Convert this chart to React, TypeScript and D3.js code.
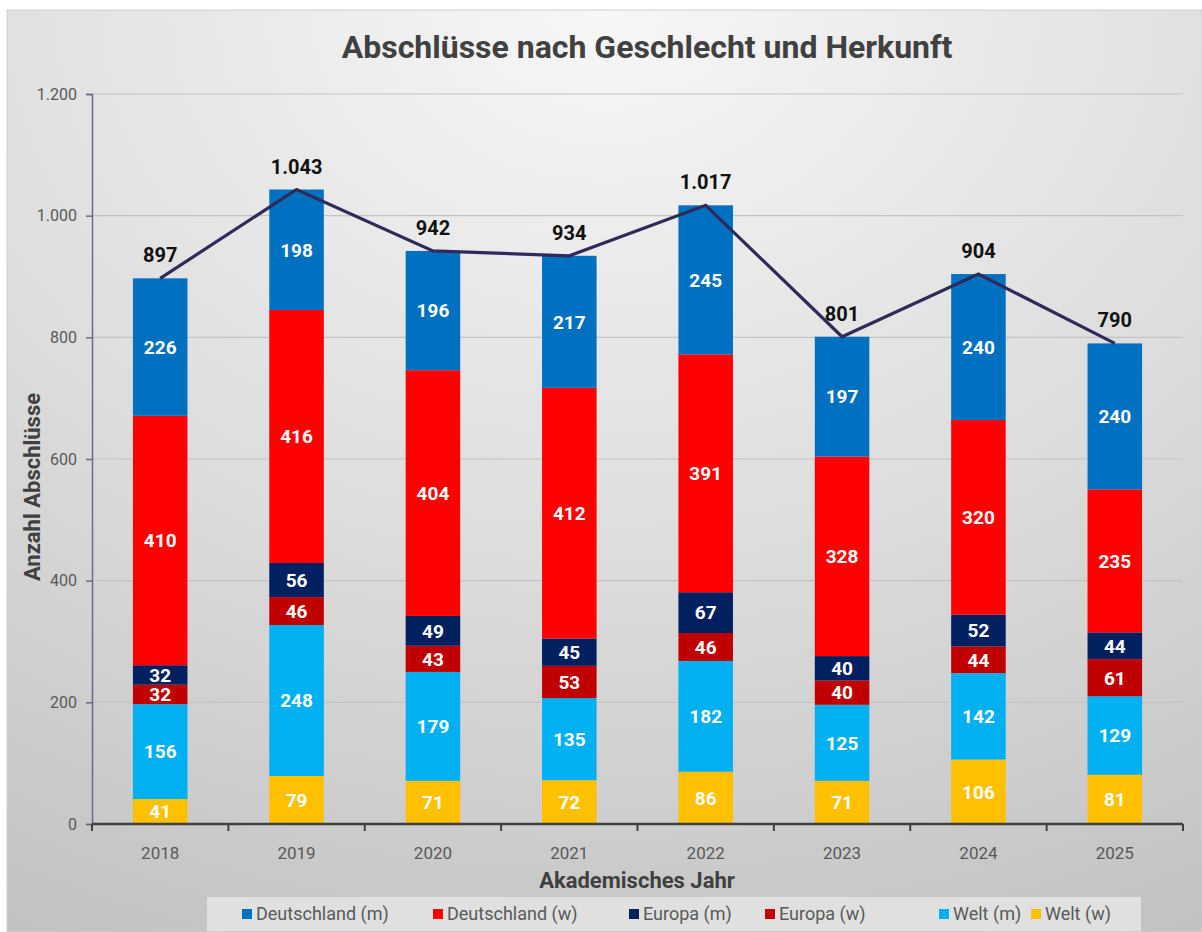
// @ts-nocheck
import React, { useRef, useEffect } from 'react';
import * as d3 from 'd3';

const years = ['2018', '2019', '2020', '2021', '2022', '2023', '2024', '2025'];
const seriesNames = ['Welt (w)', 'Welt (m)', 'Europa (w)', 'Europa (m)', 'Deutschland (w)', 'Deutschland (m)'];
const seriesColors = ['#FFC000', '#00B0F0', '#C00000', '#002060', '#FF0000', '#0070C0'];
const weltW = [41, 79, 71, 72, 86, 71, 106, 81];
const weltM = [156, 248, 179, 135, 182, 125, 142, 129];
const europaW = [32, 46, 43, 53, 46, 40, 44, 61];
const europaM = [32, 56, 49, 45, 67, 40, 52, 44];
const deutschW = [410, 416, 404, 412, 391, 328, 320, 235];
const deutschM = [226, 198, 196, 217, 245, 197, 240, 240];
const yTicks = [0, 200, 400, 600, 800, 1000, 1200];
const legendOrder = ['Deutschland (m)', 'Deutschland (w)', 'Europa (m)', 'Europa (w)', 'Welt (m)', 'Welt (w)'];

const fmt = (v) => d3.format(',')(v).replace(/,/g, '.');

export default function App() {
    const svgRef = useRef(null);

    useEffect(() => {
        const W = 1202, H = 932;
        const svg = d3.select(svgRef.current).attr('width', W).attr('height', H);
        svg.selectAll('*').remove();
        const font = 'Roboto, "DejaVu Sans", sans-serif';

        // background
        const defs = svg.append('defs');
        const grad = defs.append('radialGradient').attr('id', 'bg')
            .attr('cx', '50%').attr('cy', '0%').attr('r', '110%')
            .attr('gradientUnits', 'objectBoundingBox');
        grad.append('stop').attr('offset', '0%').attr('stop-color', '#f7f7f7');
        grad.append('stop').attr('offset', '55%').attr('stop-color', '#dcdcdc');
        grad.append('stop').attr('offset', '100%').attr('stop-color', '#c2c2c2');
        svg.append('rect').attr('width', W).attr('height', H).attr('fill', '#fff');
        svg.append('rect').attr('x', 7).attr('y', 10).attr('width', W - 7).attr('height', H - 10)
            .attr('fill', 'url(#bg)').attr('stroke', '#d0d0d0');

        const rows = years.map((y, i) => ({
            year: y,
            'Welt (w)': weltW[i], 'Welt (m)': weltM[i], 'Europa (w)': europaW[i],
            'Europa (m)': europaM[i], 'Deutschland (w)': deutschW[i], 'Deutschland (m)': deutschM[i],
        }));
        const totals = rows.map(r => d3.sum(seriesNames, k => r[k]));

        const x = d3.scaleBand().domain(years).range([92, 1183]).paddingInner(0.6).paddingOuter(0.3);
        const y = d3.scaleLinear().domain([0, 1200]).range([824, 94]);
        const color = d3.scaleOrdinal().domain(seriesNames).range(seriesColors);

        // grid
        svg.append('g').selectAll('line').data(yTicks.filter(t => t > 0)).enter().append('line')
            .attr('x1', 92).attr('x2', 1183)
            .attr('y1', d => y(d)).attr('y2', d => y(d))
            .attr('stroke', '#c4c4c4').attr('stroke-width', 1.2);

        // bars
        const stack = d3.stack().keys(seriesNames)(rows);
        const layers = svg.append('g').selectAll('g').data(stack).enter().append('g')
            .attr('fill', d => color(d.key));
        layers.selectAll('rect').data(d => d).enter().append('rect')
            .attr('x', d => x(d.data.year))
            .attr('width', x.bandwidth())
            .attr('y', d => y(d[1]))
            .attr('height', d => y(d[0]) - y(d[1]));
        layers.selectAll('text').data(d => d).enter().append('text')
            .attr('x', d => x(d.data.year) + x.bandwidth() / 2)
            .attr('y', d => (y(d[0]) + y(d[1])) / 2)
            .attr('dy', '0.36em')
            .attr('text-anchor', 'middle')
            .attr('fill', '#fff')
            .attr('font-family', font).attr('font-weight', 700).attr('font-size', 19)
            .text(d => d[1] - d[0]);

        // axes
        const yAxis = svg.append('g').attr('transform', 'translate(92,0)')
            .call(d3.axisLeft(y).tickValues(yTicks).tickSize(6).tickPadding(9).tickFormat(fmt));
        yAxis.select('.domain').attr('stroke', '#6c6a88').attr('stroke-width', 1.5);
        yAxis.selectAll('.tick line').attr('stroke', '#6c6a88').attr('stroke-width', 1.5);
        yAxis.selectAll('text').attr('fill', '#595959').attr('font-family', font).attr('font-size', 16);

        const xAxis = svg.append('g').attr('transform', 'translate(0,824)');
        xAxis.append('line').attr('x1', 92).attr('x2', 1183).attr('stroke', '#404040').attr('stroke-width', 2.5);
        const edges = [92].concat(years.slice(1).map(yy => x(yy) - (x.step() - x.bandwidth()) / 2)).concat([1183]);
        xAxis.selectAll('.tk').data(edges).enter().append('line')
            .attr('x1', d => d).attr('x2', d => d).attr('y1', 0).attr('y2', 7)
            .attr('stroke', '#404040').attr('stroke-width', 2);
        xAxis.selectAll('text').data(years).enter().append('text')
            .attr('x', d => x(d) + x.bandwidth() / 2).attr('y', 35)
            .attr('text-anchor', 'middle').attr('fill', '#595959')
            .attr('font-family', font).attr('font-size', 17)
            .text(d => d);

        // total line
        const line = d3.line().x((d, i) => x(years[i]) + x.bandwidth() / 2).y(d => y(d));
        svg.append('path').datum(totals).attr('d', line)
            .attr('fill', 'none').attr('stroke', '#2e2b5c').attr('stroke-width', 3.2);
        svg.append('g').selectAll('text').data(totals).enter().append('text')
            .attr('x', (d, i) => x(years[i]) + x.bandwidth() / 2)
            .attr('y', d => y(d) - 16)
            .attr('text-anchor', 'middle').attr('fill', '#111')
            .attr('font-family', font).attr('font-weight', 700).attr('font-size', 20)
            .text(d => fmt(d));

        // titles
        svg.append('text').attr('x', 647).attr('y', 58).attr('text-anchor', 'middle')
            .attr('fill', '#404040').attr('font-family', font).attr('font-weight', 700).attr('font-size', 32)
            .text('Abschlüsse nach Geschlecht und Herkunft');
        svg.append('text').attr('transform', 'translate(40,487) rotate(-90)').attr('text-anchor', 'middle')
            .attr('fill', '#404040').attr('font-family', font).attr('font-weight', 700).attr('font-size', 22)
            .text('Anzahl Abschlüsse');
        svg.append('text').attr('x', 637).attr('y', 888).attr('text-anchor', 'middle')
            .attr('fill', '#404040').attr('font-family', font).attr('font-weight', 700).attr('font-size', 22)
            .text('Akademisches Jahr');

        // legend
        svg.append('rect').attr('x', 207).attr('y', 897).attr('width', 934).attr('height', 34)
            .attr('fill', '#e0e0e0');
        const legX = [242, 433, 629, 765, 939, 1031];
        const leg = svg.append('g').selectAll('g').data(legendOrder).enter().append('g')
            .attr('transform', (d, i) => `translate(${legX[i]},914)`);
        leg.append('rect').attr('x', 0).attr('y', -5).attr('width', 10).attr('height', 10)
            .attr('fill', d => color(d));
        leg.append('text').attr('x', 14).attr('dy', '0.35em').attr('fill', '#595959')
            .attr('font-family', font).attr('font-size', 18).text(d => d);

        return () => { d3.select(svgRef.current).selectAll('*').remove(); };
    }, []);

    return (
        <svg ref={svgRef} style={{ position: 'absolute', left: 0, top: 0 }}></svg>
    );
}
